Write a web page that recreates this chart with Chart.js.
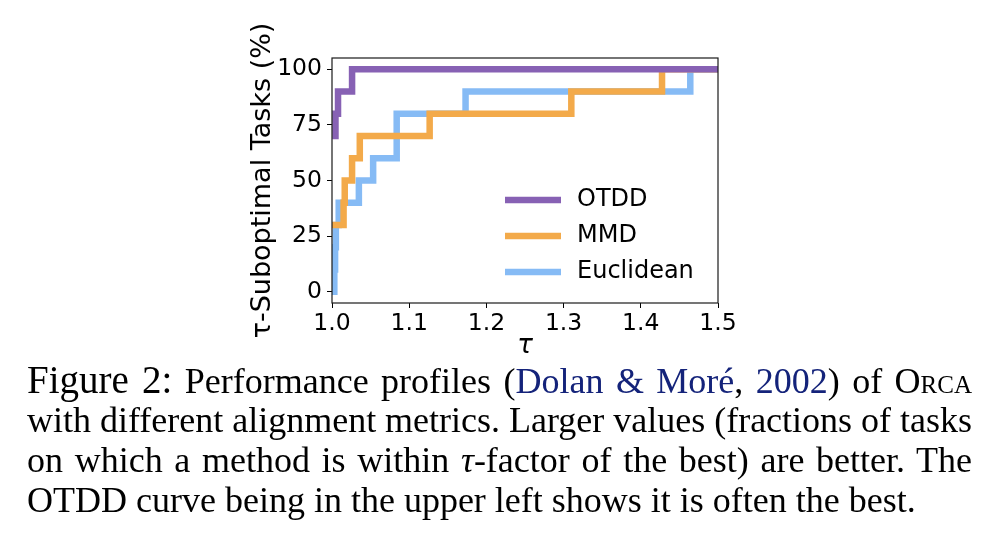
<!DOCTYPE html>
<html lang="en">
<head>
    <meta charset="UTF-8">
    <title>Performance profiles of ORCA</title>
    <script src="https://cdn.jsdelivr.net/npm/chart.js@4.4.1/dist/chart.umd.min.js"></script>
    <style>
        body {
            margin: 0;
            background: #fff;
            width: 998px;
            height: 538px;
            position: relative;
            overflow: hidden;
        }

        .chart-box {
            position: absolute;
            left: 230px;
            top: 20px;
            width: 510px;
            height: 345px;
        }

        .caption-line {
            position: absolute;
            left: 27px;
            width: 945px;
            font-family: "Liberation Serif", "DejaVu Serif", serif;
            font-size: 36px;
            line-height: 40px;
            color: #000;
            text-align: justify;
            text-align-last: justify;
            word-spacing: -4px;
        }

        .caption-line.last {
            text-align-last: left;
            word-spacing: 0;
        }

        .fig-label {
            font-size: 39px;
        }

        .cite {
            color: #14237a;
        }

        .sc {
            font-variant: small-caps;
        }
    </style>
</head>
<body>
    <div class="chart-box">
        <canvas id="profileChart"></canvas>
    </div>

    <div class="caption-line" style="top:360px"><span class="fig-label">Figure 2:</span> Performance profiles (<span class="cite">Dolan &amp; Moré</span>, <span class="cite">2002</span>) of <span class="sc">Orca</span></div>
    <div class="caption-line" style="top:400px">with different alignment metrics. Larger values (fractions of tasks</div>
    <div class="caption-line" style="top:440px">on which a method is within <i>τ</i>-factor of the best) are better. The</div>
    <div class="caption-line last" style="top:480px">OTDD curve being in the upper left shows it is often the best.</div>

    <script>
        // tick values
        const tauTicks = [1.0, 1.1, 1.2, 1.3, 1.4, 1.5];
        const pctTicks = [0, 25, 50, 75, 100];

        // series names
        const seriesNames = ['OTDD', 'MMD', 'Euclidean'];

        // step points: value holds from tau onwards
        const otddTau = [1.0045, 1.0045, 1.0078, 1.026, 1.5];
        const otddPct = [70, 80, 90, 100, 100];

        const mmdTau = [1.0, 1.015, 1.0165, 1.026, 1.036, 1.1265, 1.31, 1.4275, 1.5];
        const mmdPct = [30, 40, 50, 60, 70, 80, 90, 100, 100];

        const euclidTau = [1.0022, 1.003, 1.004, 1.005, 1.0087, 1.0348, 1.0533, 1.0838, 1.173, 1.4641, 1.5];
        const euclidPct = [0, 10, 20, 30, 40, 50, 60, 80, 90, 100, 100];

        const zip = (xs, ys) => xs.map((x, i) => ({ x: x, y: ys[i] }));

        const lineColors = ['#8761b4', '#f3aa4a', '#86bbf5'];
        const tickFont = { family: 'DejaVu Sans', size: 23.5 };

        function makeSet(i, data) {
            return {
                label: seriesNames[i],
                data: data,
                borderColor: lineColors[i],
                backgroundColor: lineColors[i],
                borderWidth: 6.5,
                borderCapStyle: 'square',
                borderJoinStyle: 'miter',
                stepped: 'before',
                pointRadius: 0,
                fill: false,
                clip: 0
            };
        }

        // box round the plot area
        const frame = {
            id: 'frame',
            afterDraw(chart) {
                const { ctx, chartArea: a } = chart;
                ctx.save();
                ctx.strokeStyle = '#1a1a1a';
                ctx.lineWidth = 1.2;
                ctx.strokeRect(a.left, a.top, a.right - a.left, a.bottom - a.top);
                ctx.restore();
            }
        };

        // legend sitting in the lower right of the axes
        const insideLegend = {
            id: 'insideLegend',
            afterDraw(chart) {
                const { ctx, chartArea: a } = chart;
                const sets = chart.data.datasets;
                ctx.save();
                ctx.font = '24px "DejaVu Sans"';
                ctx.textBaseline = 'middle';
                sets.forEach((ds, i) => {
                    const y = a.bottom - 31 - (sets.length - 1 - i) * 36;
                    const x0 = a.right - 213;
                    ctx.strokeStyle = ds.borderColor;
                    ctx.lineWidth = 6.5;
                    ctx.lineCap = 'butt';
                    ctx.beginPath();
                    ctx.moveTo(x0, y);
                    ctx.lineTo(x0 + 56, y);
                    ctx.stroke();
                    ctx.fillStyle = '#000';
                    ctx.fillText(ds.label, x0 + 72, y);
                });
                ctx.restore();
            }
        };

        const ctx = document.getElementById('profileChart').getContext('2d');
        const chart = new Chart(ctx, {
            type: 'line',
            data: {
                datasets: [
                    makeSet(0, zip(otddTau, otddPct)),
                    makeSet(1, zip(mmdTau, mmdPct)),
                    makeSet(2, zip(euclidTau, euclidPct))
                ]
            },
            options: {
                responsive: true,
                maintainAspectRatio: false,
                animation: false,
                layout: {
                    padding: { top: 38, right: 22, bottom: 0, left: 0 }
                },
                scales: {
                    x: {
                        type: 'linear',
                        min: 1.0,
                        max: 1.5,
                        afterBuildTicks: s => { s.ticks = tauTicks.map(v => ({ value: v })); },
                        afterFit: s => { s.height = 62; },
                        border: { display: false },
                        grid: { drawOnChartArea: false, tickLength: 5, color: '#000' },
                        ticks: {
                            color: '#000',
                            font: tickFont,
                            padding: 2,
                            maxRotation: 0,
                            callback: v => Number(v).toFixed(1)
                        },
                        title: {
                            display: true,
                            text: 'τ',
                            color: '#000',
                            font: { family: 'DejaVu Sans', size: 26, style: 'italic' },
                            padding: { top: 0, bottom: 3 }
                        }
                    },
                    y: {
                        min: -5,
                        max: 105,
                        afterBuildTicks: s => { s.ticks = pctTicks.map(v => ({ value: v })); },
                        afterFit: s => { s.width = 102; },
                        border: { display: false },
                        grid: { drawOnChartArea: false, tickLength: 5, color: '#000' },
                        ticks: {
                            color: '#000',
                            font: tickFont,
                            padding: 5,
                            callback: v => String(v)
                        },
                        title: {
                            display: true,
                            text: 'τ-Suboptimal Tasks (%)',
                            color: '#000',
                            font: { family: 'DejaVu Sans', size: 27 },
                            padding: { top: 17, bottom: 0 }
                        }
                    }
                },
                plugins: {
                    legend: { display: false },
                    tooltip: { enabled: false }
                }
            },
            plugins: [frame, insideLegend]
        });
    </script>
</body>
</html>
